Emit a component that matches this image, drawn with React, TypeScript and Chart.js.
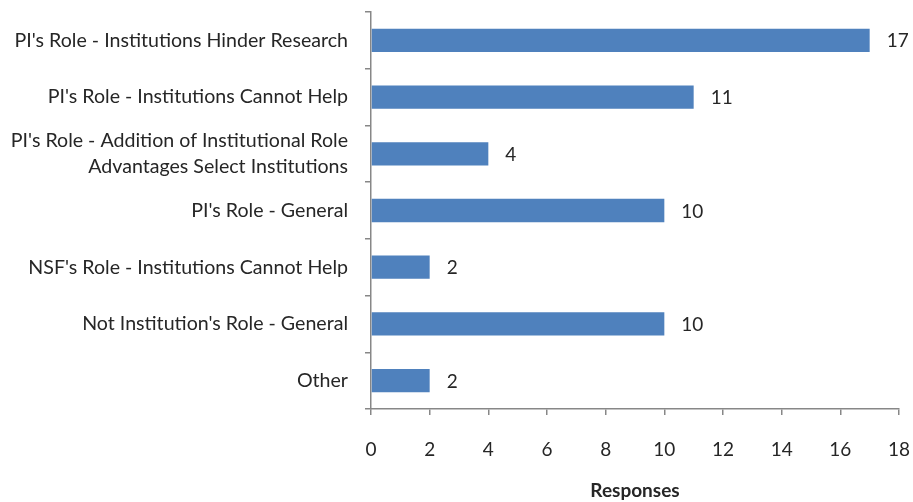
import React, { useEffect, useRef } from "react";
import { Chart, registerables } from "chart.js";

Chart.register(...registerables);

const categories: (string | string[])[] = [
  "PI's Role - Institutions Hinder Research",
  "PI's Role - Institutions Cannot Help",
  ["PI's Role - Addition of Institutional Role", "Advantages Select Institutions"],
  "PI's Role - General",
  "NSF's Role - Institutions Cannot Help",
  "Not Institution's Role - General",
  "Other",
];
const responses = [17, 11, 4, 10, 2, 10, 2];
const xTicks = [0, 2, 4, 6, 8, 10, 12, 14, 16, 18];
const axisTitle = "Responses";

const FONT = "Lato, 'Open Sans', sans-serif";
const TEXT = "#262626";
const AXIS = "#878787";
const FS = 19;

const valueLabels = {
  id: "valueLabels",
  afterDatasetsDraw(chart: any) {
    const ctx = chart.ctx;
    const meta = chart.getDatasetMeta(0);
    ctx.save();
    ctx.font = `${FS}px ${FONT}`;
    ctx.fillStyle = TEXT;
    ctx.textAlign = "left";
    ctx.textBaseline = "middle";
    meta.data.forEach((bar: any, i: number) => {
      ctx.fillText(String(responses[i]), bar.x + 17, bar.y + 1);
    });
    ctx.restore();
  },
};

export default function App() {
  const ref = useRef<HTMLCanvasElement | null>(null);
  useEffect(() => {
    if (!ref.current) return;
    const chart = new Chart(ref.current, {
      type: "bar",
      data: {
        labels: categories,
        datasets: [
          {
            data: responses,
            backgroundColor: "#4f81bd",
            borderWidth: 0,
            barPercentage: 0.41,
            categoryPercentage: 1,
          },
        ],
      },
      plugins: [valueLabels],
      options: {
        indexAxis: "y",
        animation: false,
        responsive: false,
        maintainAspectRatio: false,
        layout: { padding: 0 },
        plugins: {
          legend: { display: false },
          tooltip: { enabled: false },
        },
        scales: {
          x: {
            min: 0,
            max: 18,
            afterBuildTicks: (scale: any) => {
              scale.ticks = xTicks.map((v) => ({ value: v }));
            },
            afterFit: (scale: any) => {
              scale.height = 93;
              scale.paddingLeft = 0;
              scale.paddingRight = 14;
            },
            border: { display: true, color: AXIS, width: 1.5 },
            grid: {
              drawOnChartArea: false,
              drawTicks: true,
              tickLength: 6,
              color: AXIS,
              lineWidth: 1.5,
            },
            ticks: {
              color: TEXT,
              font: { family: FONT, size: FS },
              padding: 23,
            },
            title: {
              display: true,
              text: axisTitle,
              color: TEXT,
              font: { family: FONT, size: FS, weight: "bold" },
              padding: { top: 10, bottom: 0 },
            },
          },
          y: {
            afterFit: (scale: any) => {
              scale.width = 371;
              scale.paddingTop = 12;
              scale.paddingBottom = 0;
            },
            border: { display: true, color: AXIS, width: 1.5 },
            grid: {
              offset: true,
              drawOnChartArea: false,
              drawTicks: true,
              tickLength: 6,
              color: AXIS,
              lineWidth: 1.5,
            },
            ticks: {
              color: TEXT,
              font: { family: FONT, size: 19.6, lineHeight: 1.33 },
              padding: 17,
              autoSkip: false,
            },
          },
        },
      },
    });
    return () => chart.destroy();
  }, []);
  return (
    <div style={{ position: "absolute", left: 0, top: 0, width: 913, height: 502, background: "#fff" }}>
      <canvas ref={ref} width={913} height={502} style={{ display: "block", width: 913, height: 502 }} />
    </div>
  );
}
